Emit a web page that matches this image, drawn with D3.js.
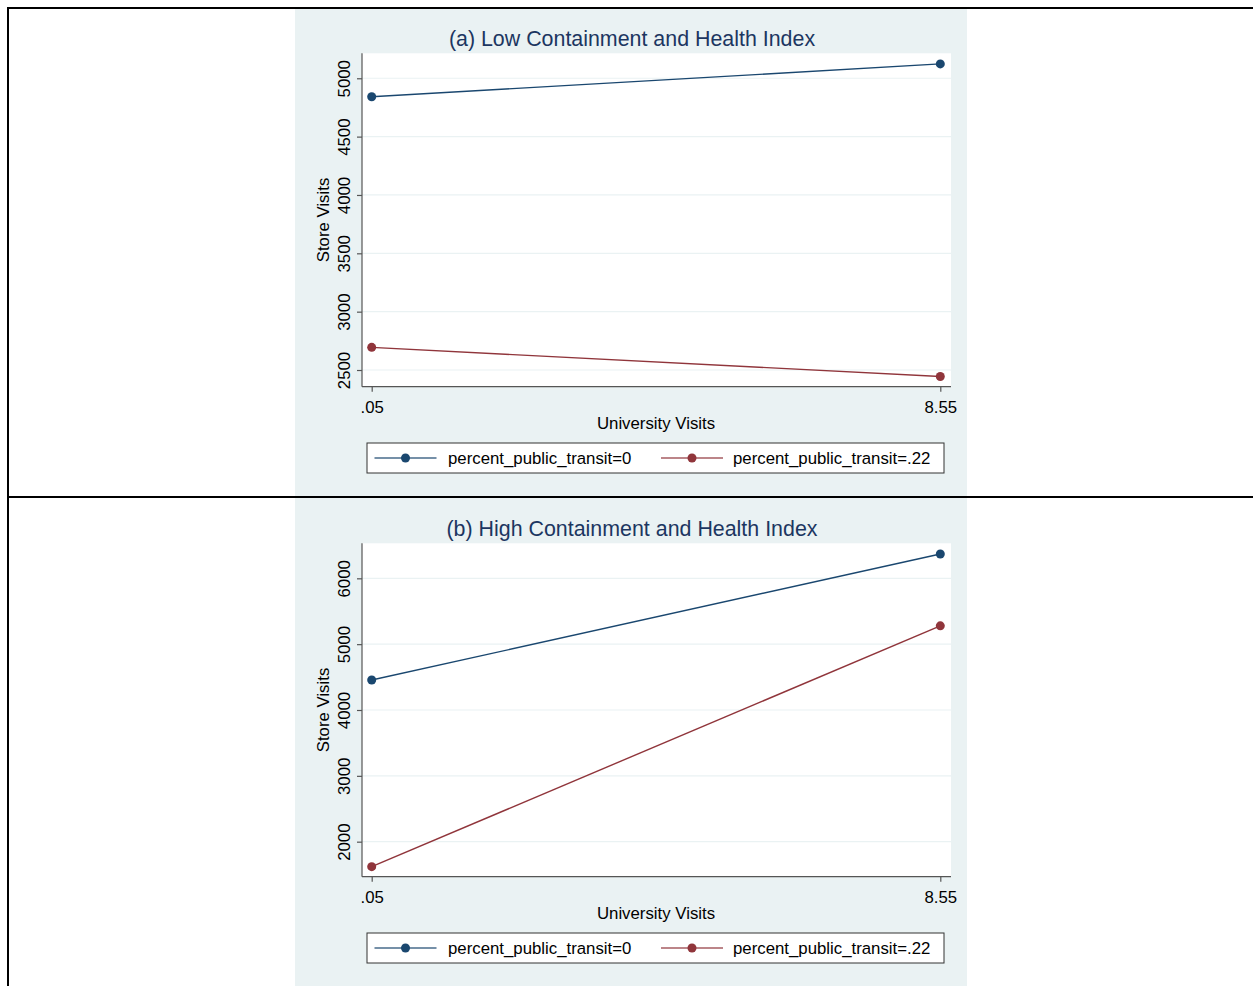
<!DOCTYPE html>
<html><head><meta charset="utf-8">
<script src="https://cdn.jsdelivr.net/npm/d3@7"></script>
<style>body{margin:0;background:#fff;}svg{display:block;font-family:"Liberation Sans",Arial,sans-serif;}</style>
</head><body>
<script>
const xValues = [0.05, 8.55];
const xTickLabels = [".05", "8.55"];
const seriesNames = ["percent_public_transit=0", "percent_public_transit=.22"];
const panelTitles = ["(a) Low Containment and Health Index", "(b) High Containment and Health Index"];
const lowBlue = [4842, 5123];
const lowRed = [2694, 2444];
const highBlue = [4456, 6369];
const highRed = [1620, 5278];
const lowYTicks = [2500, 3000, 3500, 4000, 4500, 5000];
const highYTicks = [2000, 3000, 4000, 5000, 6000];
const lowYDomain = [2357, 5214];
const highYDomain = [1468, 6532];

const colors = ["#1a476f", "#90353b"];
const W = 1253, H = 986;
const FS = 16.8;
const svg = d3.select("body").append("svg").attr("width", W).attr("height", H);

function panel(off, title, series, yTicks, yDomain, bgTop, bgBot) {
  const g = svg.append("g");
  g.append("rect").attr("x", 295).attr("y", bgTop).attr("width", 672).attr("height", bgBot - bgTop).attr("fill", "#eaf2f3");
  const top = 53.3 + off, bot = 386.7 + off, left = 362, right = 951;
  g.append("rect").attr("x", left).attr("y", top).attr("width", right - left).attr("height", bot - top).attr("fill", "#fff");
  const x = d3.scaleLinear().domain([0.05, 8.55]).range([371.7, 940.3]);
  const y = d3.scaleLinear().domain(yDomain).range([bot, top]);
  g.selectAll(".grid").data(yTicks).enter().append("line")
    .attr("x1", left).attr("x2", right).attr("y1", d => y(d)).attr("y2", d => y(d))
    .attr("stroke", "#eaf2f3").attr("stroke-width", 1.2);
  const ya = g.append("g").attr("transform", `translate(${left},0)`)
    .call(d3.axisLeft(y).tickValues(yTicks).tickSize(5).tickFormat(d3.format("d")));
  ya.select(".domain").attr("stroke", "#555").attr("stroke-width", 1.2).attr("d", `M0,${top}V${bot}`);
  ya.selectAll(".tick line").attr("stroke", "#555").attr("stroke-width", 1.2);
  ya.selectAll(".tick text").attr("transform", "rotate(-90)").attr("x", 0).attr("y", -12.5)
    .attr("dy", 0).attr("text-anchor", "middle").attr("font-size", FS).attr("fill", "#000")
    .attr("font-family", "Liberation Sans, Arial, sans-serif");
  const xa = g.append("g").attr("transform", `translate(0,${bot})`)
    .call(d3.axisBottom(x).tickValues(xValues).tickSize(5).tickFormat((d, i) => xTickLabels[i]));
  xa.select(".domain").attr("stroke", "#555").attr("stroke-width", 1.2).attr("d", `M${left},0H${right}`);
  xa.selectAll(".tick line").attr("stroke", "#555").attr("stroke-width", 1.2);
  xa.selectAll(".tick text").attr("y", 26).attr("dy", 0).attr("font-size", FS).attr("fill", "#000")
    .attr("font-family", "Liberation Sans, Arial, sans-serif");
  g.append("text").attr("x", 656).attr("y", 429 + off).attr("text-anchor", "middle").attr("font-size", FS).text("University Visits");
  g.append("text").attr("transform", `translate(329,${(top + bot) / 2}) rotate(-90)`).attr("text-anchor", "middle").attr("font-size", FS).text("Store Visits");
  g.append("text").attr("x", 632).attr("y", 45.5 + off).attr("text-anchor", "middle").attr("font-size", 21.4).attr("fill", "#1c3661").text(title);
  const line = d3.line().x((d, i) => x(xValues[i])).y(d => y(d));
  series.forEach((s, k) => {
    g.append("path").datum(s).attr("d", line).attr("fill", "none").attr("stroke", colors[k]).attr("stroke-width", 1.4);
    g.selectAll(".pt" + k).data(s).enter().append("circle")
      .attr("cx", (d, i) => x(xValues[i])).attr("cy", d => y(d)).attr("r", 4.5).attr("fill", colors[k]);
  });
  const ly = 458 + off;
  g.append("rect").attr("x", 367).attr("y", 443 + off).attr("width", 577).attr("height", 30)
    .attr("fill", "#fff").attr("stroke", "#333").attr("stroke-width", 1);
  const lx = [[374.5, 436.5, 405.5, 448], [661, 723, 692, 733]];
  seriesNames.forEach((n, k) => {
    g.append("line").attr("x1", lx[k][0]).attr("x2", lx[k][1]).attr("y1", ly).attr("y2", ly)
      .attr("stroke", colors[k]).attr("stroke-width", 1.4).attr("opacity", 0.8);
    g.append("circle").attr("cx", lx[k][2]).attr("cy", ly).attr("r", 4.5).attr("fill", colors[k]);
    g.append("text").attr("x", lx[k][3]).attr("y", ly + 6).attr("font-size", FS).text(n);
  });
}

panel(0, panelTitles[0], [lowBlue, lowRed], lowYTicks, lowYDomain, 9, 496);
panel(490, panelTitles[1], [highBlue, highRed], highYTicks, highYDomain, 498, 986);

svg.append("line").attr("x1", 7).attr("x2", W).attr("y1", 8).attr("y2", 8).attr("stroke", "#000").attr("stroke-width", 2);
svg.append("line").attr("x1", 8).attr("x2", 8).attr("y1", 7).attr("y2", H).attr("stroke", "#000").attr("stroke-width", 2);
svg.append("line").attr("x1", 7).attr("x2", W).attr("y1", 497).attr("y2", 497).attr("stroke", "#000").attr("stroke-width", 2);
</script>
</body></html>
